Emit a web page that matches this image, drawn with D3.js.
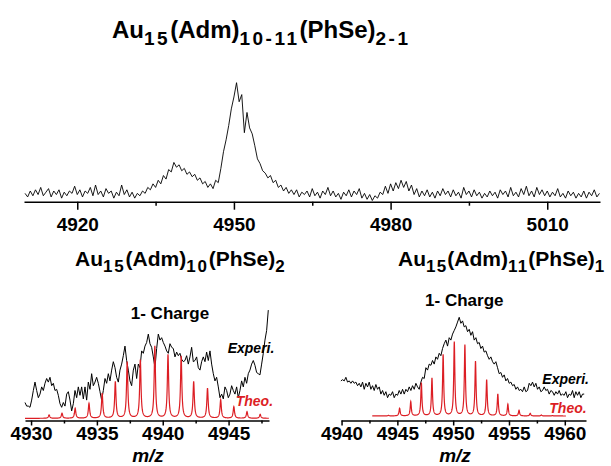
<!DOCTYPE html>
<html>
<head>
<meta charset="utf-8">
<script src="https://cdn.jsdelivr.net/npm/d3@7"></script>
<style>
  body { margin: 0; background: #fff; }
  svg { display: block; font-family: Arial, "Liberation Sans", sans-serif; }
  .axis path, .axis line { stroke: #000; stroke-width: 1.5; }
  .axis text { font-size: 19px; font-weight: bold; fill: #000; }
  .lbl { font-weight: bold; fill: #000; }
</style>
</head>
<body>
<svg id="chart" width="611" height="466"></svg>
<script>
// top survey spectrum, sampled every 0.5 m/z
const topMzStart = 4910, topMzStep = 0.5;
const topIntensity = [
  7, 4, 9, 5, 10, 6, 12, 5, 8, 11,
  4, 9, 6, 10, 3, 8, 5, 9, 7, 13,
  6, 10, 4, 9, 7, 12, 5, 14, 6, 9,
  4, 11, 7, 9, 3, 8, 5, 14, 6, 10,
  4, 8, 3, 7, 5, 9, 7, 12, 10, 15,
  12, 18, 15, 22, 19, 27, 25, 33, 29, 31,
  26, 28, 23, 25, 21, 23, 18, 20, 15, 17,
  12, 15, 11, 18, 16, 28, 42, 52, 64, 78,
  88, 100, 84, 90, 58, 75, 62, 57, 47, 36,
  32, 26, 24, 20, 22, 16, 18, 12, 14, 9,
  12, 7, 10, 6, 10, 4, 8, 6, 9, 4,
  11, 5, 8, 3, 9, 6, 12, 5, 9, 4,
  7, 2, 8, 5, 10, 4, 9, 6, 11, 3,
  7, 2, 6, 1, 5, 3, 8, 6, 13, 7,
  15, 9, 16, 11, 18, 12, 17, 9, 14, 6,
  11, 4, 9, 5, 10, 4, 8, 3, 9, 5,
  11, 6, 9, 4, 10, 5, 8, 3, 12, 6,
  9, 4, 10, 5, 8, 3, 7, 4, 9, 5,
  8, 3, 10, 6, 9, 4, 12, 5, 8, 4,
  11, 6, 13, 5, 9, 4, 12, 6, 10, 5,
  9, 4, 8, 5, 11, 4, 7, 3, 9, 5,
  8, 3, 7, 4, 9, 3, 8, 5, 10, 4,
  7
];
const topTicks = [4920, 4950, 4980, 5010];
const topMinorTicks = [4935, 4965, 4995];

// Au15(Adm)10(PhSe)2 zoom
const leftMzStart = 4929.54, leftMzStep = 0.12655;
const leftExperi = [
  15, 12, 12, 11, 17, 25, 32, 25, 19, 22,
  28, 25, 31, 35, 32, 36, 29, 31, 25, 26,
  21, 14, 11, 15, 12, 22, 24, 17, 8, 14,
  25, 19, 28, 21, 28, 18, 28, 17, 32, 26,
  39, 29, 32, 36, 31, 24, 17, 25, 35, 31,
  39, 33, 42, 49, 44, 36, 32, 42, 47, 54,
  62, 50, 42, 33, 29, 42, 47, 35, 47, 44,
  58, 56, 62, 65, 72, 64, 61, 53, 44, 60,
  72, 67, 69, 65, 62, 58, 56, 64, 61, 60,
  53, 57, 54, 56, 51, 49, 50, 54, 47, 53,
  61, 49, 50, 53, 44, 42, 49, 53, 49, 57,
  50, 58, 47, 39, 33, 36, 28, 19, 22, 18,
  28, 25, 19, 22, 29, 25, 22, 28, 19, 25,
  33, 28, 36, 31, 39, 42, 47, 50, 46, 40,
  39, 38, 47, 56, 67, 75, 92
];
const leftTheoMz = [4931.37, 4932.35, 4933.35, 4934.4, 4935.4, 4936.4, 4937.3, 4938.3, 4939.4,
  4940.4, 4941.4, 4942.35, 4943.4, 4944.4, 4945.4, 4946.4, 4947.4];
const leftTheoHeight = [2.8, 4.2, 8.3, 12.5, 20.8, 30.5, 47, 48.6, 60, 52.8, 51.7, 30.5, 25, 15.3, 9.7, 5.5, 3.3];
const leftTheoBase = 1.8;
const leftTicks = [4930, 4935, 4940, 4945];
const leftMinorTicks = [4932.5, 4937.5, 4942.5, 4947.5];

// Au15(Adm)11(PhSe)1 zoom
const rightMzStart = 4939.94, rightMzStep = 0.1493;
const rightExperi = [
  33, 34, 33, 36, 32, 33, 31, 33, 31, 32,
  29, 31, 28, 32, 26, 31, 28, 32, 26, 29,
  25, 30, 26, 28, 22, 25, 21, 24, 19, 22,
  21, 24, 19, 22, 21, 25, 22, 26, 22, 26,
  24, 28, 25, 29, 26, 31, 28, 26, 32, 36,
  35, 44, 42, 47, 46, 50, 47, 53, 51, 56,
  54, 60, 64, 67, 62, 69, 67, 72, 75, 78,
  82, 86, 81, 83, 78, 79, 74, 76, 71, 74,
  67, 69, 64, 65, 60, 62, 57, 58, 54, 51,
  53, 49, 47, 49, 44, 39, 40, 36, 38, 33,
  35, 31, 32, 29, 30, 26, 28, 25, 26, 24,
  28, 24, 25, 31, 29, 32, 28, 31, 26, 28,
  24, 25, 28, 25, 26, 22, 25, 24, 21, 24,
  22, 25, 21, 22, 21, 24, 19, 22, 21, 25,
  19, 24, 21, 24, 19, 22, 22
];
const rightTheoMz = [4944.2, 4945.2, 4946.2, 4947.15, 4948.1, 4949.1, 4950.1, 4951.05, 4952.0,
  4953.0, 4954.0, 4954.9, 4955.9, 4956.9, 4957.9, 4958.9];
const rightTheoHeight = [0.5, 6.4, 11.9, 27.5, 31.4, 51, 61.5, 59, 45.3, 30, 18.3, 9.7, 4.7, 2.2, 0.8, 0.4];
const rightTheoBase = 3.75;
const rightTheoRange = [4942.75, 4960.1];
const rightTicks = [4940, 4945, 4950, 4955, 4960];
const rightMinorTicks = [4942.5, 4947.5, 4952.5, 4957.5];

const red = "#dc1e24";
const svg = d3.select("#chart");
svg.append("rect").attr("width", 611).attr("height", 466).attr("fill", "#fff");

function axes(x, y0, major, minor, majorSize, minorSize, pad) {
  svg.append("g")
    .attr("class", "axis")
    .attr("transform", "translate(0," + y0 + ")")
    .call(d3.axisBottom(x).tickValues(major).tickSize(majorSize).tickSizeOuter(0)
      .tickPadding(pad).tickFormat(d3.format("d")));
  const g = svg.append("g")
    .attr("class", "axis")
    .attr("transform", "translate(0," + y0 + ")")
    .call(d3.axisBottom(x).tickValues(minor).tickSize(minorSize).tickFormat(""));
  g.select(".domain").remove();
}

function trace(x, y, start, step, values, color, width) {
  const line = d3.line()
    .x((d, i) => x(start + i * step))
    .y(d => y(d));
  svg.append("path")
    .datum(values)
    .attr("fill", "none")
    .attr("stroke", color)
    .attr("stroke-width", width)
    .attr("stroke-linejoin", "round")
    .attr("d", line);
}

// stick list drawn with a narrow lorentzian line shape
function theo(x, y, mz, h, base, range) {
  const gamma = 0.06;
  const pts = d3.range(range[0], range[1], 0.01).map(m => {
    let v = base;
    mz.forEach((c, i) => { const t = (m - c) / gamma; v += h[i] / (1 + t * t); });
    return [m, v];
  });
  svg.append("path")
    .datum(pts)
    .attr("fill", "none")
    .attr("stroke", red)
    .attr("stroke-width", 1.2)
    .attr("d", d3.line().x(d => x(d[0])).y(d => y(d[1])));
}

function formula(x, y, parts, size, subSize, shift, ls) {
  const t = svg.append("text").attr("class", "lbl").attr("x", x).attr("y", y)
    .attr("font-size", size);
  let low = false;
  parts.forEach(p => {
    const sub = p[1] === 1;
    const s = t.append("tspan").text(p[0]);
    if (sub) {
      s.attr("font-size", subSize).attr("letter-spacing", ls);
      if (!low) s.attr("dy", shift);
      low = true;
    } else {
      if (low) s.attr("dy", -shift);
      low = false;
    }
  });
}

function label(x, y, txt, size, anchor, italic, color) {
  svg.append("text").attr("class", "lbl")
    .attr("x", x).attr("y", y)
    .attr("font-size", size)
    .attr("text-anchor", anchor)
    .attr("font-style", italic ? "italic" : "normal")
    .style("fill", color || "#000")
    .text(txt);
}

// top panel
const xTop = d3.scaleLinear().domain([4909.8, 5020.1]).range([24, 600]);
const yTop = d3.scaleLinear().domain([0, 100]).range([201.7, 82.7]);
trace(xTop, yTop, topMzStart, topMzStep, topIntensity, "#000", 0.9);
axes(xTop, 201.7, topTicks, topMinorTicks, 8, 4, 8);
formula(112, 38.3, [["Au", 0], ["15", 1], ["(Adm)", 0], ["10-11", 1], ["(PhSe)", 0], ["2-1", 1]],
  24, 19, 6.7, 2.5);

// bottom left panel
const xL = d3.scaleLinear().domain([4929.54, 4948.07]).range([25, 269]);
const yL = d3.scaleLinear().domain([0, 100]).range([420.5, 300.5]);
trace(xL, yL, leftMzStart, leftMzStep, leftExperi, "#000", 1);
theo(xL, yL, leftTheoMz, leftTheoHeight, leftTheoBase, [4929.54, 4948.07]);
axes(xL, 420.5, leftTicks, leftMinorTicks, 5, 3, 1);
formula(75, 266, [["Au", 0], ["15", 1], ["(Adm)", 0], ["10", 1], ["(PhSe)", 0], ["2", 1]],
  21, 17, 5.7, 1.8);
label(170, 319, "1- Charge", 17, "middle", false);
label(227.7, 352.7, "Experi.", 14, "start", true);
label(235.7, 406, "Theo.", 14, "start", true, red);
label(148, 462, "m/z", 19, "middle", true);

// bottom right panel
const xR = d3.scaleLinear().domain([4939.95, 4961.9]).range([341, 586]);
const yR = d3.scaleLinear().domain([0, 100]).range([420.5, 300.5]);
trace(xR, yR, rightMzStart, rightMzStep, rightExperi, "#000", 1);
theo(xR, yR, rightTheoMz, rightTheoHeight, rightTheoBase, rightTheoRange);
axes(xR, 420.5, rightTicks, rightMinorTicks, 5, 3, 1);
formula(398, 266, [["Au", 0], ["15", 1], ["(Adm)", 0], ["11", 1], ["(PhSe)", 0], ["1", 1]],
  21, 17, 5.7, 1.2);
label(464.3, 306, "1- Charge", 17, "middle", false);
label(542.3, 384, "Experi.", 14, "start", true);
label(549.3, 412.7, "Theo.", 14, "start", true, red);
label(455, 462, "m/z", 19, "middle", true);
</script>
</body>
</html>
